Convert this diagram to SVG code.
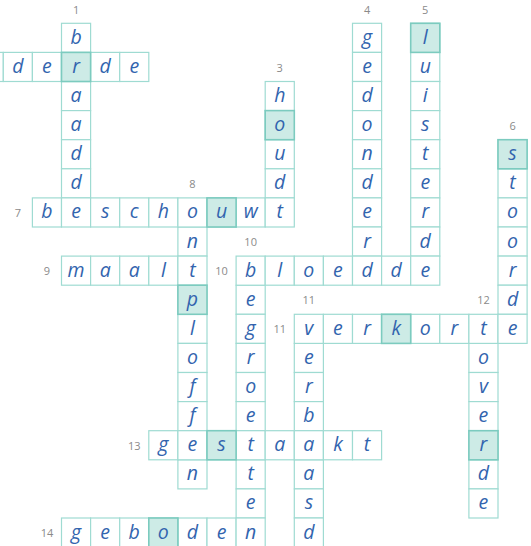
<svg xmlns="http://www.w3.org/2000/svg" width="531" height="546" viewBox="0 0 531 546">
<style>
.c{fill:#fff;stroke:#9fdbd2;stroke-width:1.2}
.h{fill:#cdebe6;stroke:#7ccbbf;stroke-width:1.6}
.l{font-family:"Open Sans","Noto Sans",sans-serif;font-style:italic;font-size:19.5px;fill:#3264ae;text-anchor:middle}
.n{font-family:"Open Sans","Noto Sans",sans-serif;font-size:11px;fill:#8a8a8a;text-anchor:middle}
</style>
<rect width="531" height="546" fill="#fff"/>
<g id="connectors"></g>
<g id="a-derde">
<rect class="c" x="-25.8" y="52.4" width="29.1" height="29.1"/>
<rect class="c" x="3.3" y="52.4" width="29.1" height="29.1"/>
<rect class="c" x="32.4" y="52.4" width="29.1" height="29.1"/>
<rect class="c" x="61.5" y="52.4" width="29.1" height="29.1"/>
<rect class="c" x="90.6" y="52.4" width="29.1" height="29.1"/>
<rect class="c" x="119.7" y="52.4" width="29.1" height="29.1"/>
</g>
<g id="d1">
<rect class="c" x="61.5" y="23.3" width="29.1" height="29.1"/>
<rect class="c" x="61.5" y="81.5" width="29.1" height="29.1"/>
<rect class="c" x="61.5" y="110.6" width="29.1" height="29.1"/>
<rect class="c" x="61.5" y="139.7" width="29.1" height="29.1"/>
<rect class="c" x="61.5" y="168.8" width="29.1" height="29.1"/>
</g>
<g id="d3">
<rect class="c" x="265.2" y="81.5" width="29.1" height="29.1"/>
<rect class="c" x="265.2" y="110.6" width="29.1" height="29.1"/>
<rect class="c" x="265.2" y="139.7" width="29.1" height="29.1"/>
<rect class="c" x="265.2" y="168.8" width="29.1" height="29.1"/>
</g>
<g id="d4">
<rect class="c" x="352.5" y="23.3" width="29.1" height="29.1"/>
<rect class="c" x="352.5" y="52.4" width="29.1" height="29.1"/>
<rect class="c" x="352.5" y="81.5" width="29.1" height="29.1"/>
<rect class="c" x="352.5" y="110.6" width="29.1" height="29.1"/>
<rect class="c" x="352.5" y="139.7" width="29.1" height="29.1"/>
<rect class="c" x="352.5" y="168.8" width="29.1" height="29.1"/>
<rect class="c" x="352.5" y="197.9" width="29.1" height="29.1"/>
<rect class="c" x="352.5" y="227.0" width="29.1" height="29.1"/>
</g>
<g id="d5">
<rect class="c" x="410.7" y="23.3" width="29.1" height="29.1"/>
<rect class="c" x="410.7" y="52.4" width="29.1" height="29.1"/>
<rect class="c" x="410.7" y="81.5" width="29.1" height="29.1"/>
<rect class="c" x="410.7" y="110.6" width="29.1" height="29.1"/>
<rect class="c" x="410.7" y="139.7" width="29.1" height="29.1"/>
<rect class="c" x="410.7" y="168.8" width="29.1" height="29.1"/>
<rect class="c" x="410.7" y="197.9" width="29.1" height="29.1"/>
<rect class="c" x="410.7" y="227.0" width="29.1" height="29.1"/>
</g>
<g id="d6">
<rect class="c" x="498.0" y="139.7" width="29.1" height="29.1"/>
<rect class="c" x="498.0" y="168.8" width="29.1" height="29.1"/>
<rect class="c" x="498.0" y="197.9" width="29.1" height="29.1"/>
<rect class="c" x="498.0" y="227.0" width="29.1" height="29.1"/>
<rect class="c" x="498.0" y="256.1" width="29.1" height="29.1"/>
<rect class="c" x="498.0" y="285.2" width="29.1" height="29.1"/>
</g>
<g id="d8">
<rect class="c" x="177.9" y="227.0" width="29.1" height="29.1"/>
<rect class="c" x="177.9" y="285.2" width="29.1" height="29.1"/>
<rect class="c" x="177.9" y="314.3" width="29.1" height="29.1"/>
<rect class="c" x="177.9" y="343.4" width="29.1" height="29.1"/>
<rect class="c" x="177.9" y="372.5" width="29.1" height="29.1"/>
<rect class="c" x="177.9" y="401.6" width="29.1" height="29.1"/>
<rect class="c" x="177.9" y="459.8" width="29.1" height="29.1"/>
</g>
<g id="d10">
<rect class="c" x="236.1" y="285.2" width="29.1" height="29.1"/>
<rect class="c" x="236.1" y="314.3" width="29.1" height="29.1"/>
<rect class="c" x="236.1" y="343.4" width="29.1" height="29.1"/>
<rect class="c" x="236.1" y="372.5" width="29.1" height="29.1"/>
<rect class="c" x="236.1" y="401.6" width="29.1" height="29.1"/>
<rect class="c" x="236.1" y="459.8" width="29.1" height="29.1"/>
<rect class="c" x="236.1" y="488.9" width="29.1" height="29.1"/>
</g>
<g id="d11">
<rect class="c" x="294.3" y="343.4" width="29.1" height="29.1"/>
<rect class="c" x="294.3" y="372.5" width="29.1" height="29.1"/>
<rect class="c" x="294.3" y="401.6" width="29.1" height="29.1"/>
<rect class="c" x="294.3" y="459.8" width="29.1" height="29.1"/>
<rect class="c" x="294.3" y="488.9" width="29.1" height="29.1"/>
<rect class="c" x="294.3" y="518.0" width="29.1" height="29.1"/>
</g>
<g id="d12">
<rect class="c" x="468.9" y="343.4" width="29.1" height="29.1"/>
<rect class="c" x="468.9" y="372.5" width="29.1" height="29.1"/>
<rect class="c" x="468.9" y="401.6" width="29.1" height="29.1"/>
<rect class="c" x="468.9" y="430.7" width="29.1" height="29.1"/>
<rect class="c" x="468.9" y="459.8" width="29.1" height="29.1"/>
<rect class="c" x="468.9" y="488.9" width="29.1" height="29.1"/>
</g>
<g id="a7">
<rect class="c" x="32.4" y="197.9" width="29.1" height="29.1"/>
<rect class="c" x="61.5" y="197.9" width="29.1" height="29.1"/>
<rect class="c" x="90.6" y="197.9" width="29.1" height="29.1"/>
<rect class="c" x="119.7" y="197.9" width="29.1" height="29.1"/>
<rect class="c" x="148.8" y="197.9" width="29.1" height="29.1"/>
<rect class="c" x="177.9" y="197.9" width="29.1" height="29.1"/>
<rect class="c" x="207.0" y="197.9" width="29.1" height="29.1"/>
<rect class="c" x="236.1" y="197.9" width="29.1" height="29.1"/>
<rect class="c" x="265.2" y="197.9" width="29.1" height="29.1"/>
</g>
<g id="a9">
<rect class="c" x="61.5" y="256.1" width="29.1" height="29.1"/>
<rect class="c" x="90.6" y="256.1" width="29.1" height="29.1"/>
<rect class="c" x="119.7" y="256.1" width="29.1" height="29.1"/>
<rect class="c" x="148.8" y="256.1" width="29.1" height="29.1"/>
<rect class="c" x="177.9" y="256.1" width="29.1" height="29.1"/>
</g>
<g id="a10">
<rect class="c" x="236.1" y="256.1" width="29.1" height="29.1"/>
<rect class="c" x="265.2" y="256.1" width="29.1" height="29.1"/>
<rect class="c" x="294.3" y="256.1" width="29.1" height="29.1"/>
<rect class="c" x="323.4" y="256.1" width="29.1" height="29.1"/>
<rect class="c" x="352.5" y="256.1" width="29.1" height="29.1"/>
<rect class="c" x="381.6" y="256.1" width="29.1" height="29.1"/>
<rect class="c" x="410.7" y="256.1" width="29.1" height="29.1"/>
</g>
<g id="a11">
<rect class="c" x="294.3" y="314.3" width="29.1" height="29.1"/>
<rect class="c" x="323.4" y="314.3" width="29.1" height="29.1"/>
<rect class="c" x="352.5" y="314.3" width="29.1" height="29.1"/>
<rect class="c" x="381.6" y="314.3" width="29.1" height="29.1"/>
<rect class="c" x="410.7" y="314.3" width="29.1" height="29.1"/>
<rect class="c" x="439.8" y="314.3" width="29.1" height="29.1"/>
<rect class="c" x="468.9" y="314.3" width="29.1" height="29.1"/>
<rect class="c" x="498.0" y="314.3" width="29.1" height="29.1"/>
</g>
<g id="a13">
<rect class="c" x="148.8" y="430.7" width="29.1" height="29.1"/>
<rect class="c" x="177.9" y="430.7" width="29.1" height="29.1"/>
<rect class="c" x="207.0" y="430.7" width="29.1" height="29.1"/>
<rect class="c" x="236.1" y="430.7" width="29.1" height="29.1"/>
<rect class="c" x="265.2" y="430.7" width="29.1" height="29.1"/>
<rect class="c" x="294.3" y="430.7" width="29.1" height="29.1"/>
<rect class="c" x="323.4" y="430.7" width="29.1" height="29.1"/>
<rect class="c" x="352.5" y="430.7" width="29.1" height="29.1"/>
</g>
<g id="a14">
<rect class="c" x="61.5" y="518.0" width="29.1" height="29.1"/>
<rect class="c" x="90.6" y="518.0" width="29.1" height="29.1"/>
<rect class="c" x="119.7" y="518.0" width="29.1" height="29.1"/>
<rect class="c" x="148.8" y="518.0" width="29.1" height="29.1"/>
<rect class="c" x="177.9" y="518.0" width="29.1" height="29.1"/>
<rect class="c" x="207.0" y="518.0" width="29.1" height="29.1"/>
<rect class="c" x="236.1" y="518.0" width="29.1" height="29.1"/>
</g>
<g id="highlights">
<rect class="h" x="61.5" y="52.4" width="29.1" height="29.1"/>
<rect class="h" x="265.2" y="110.6" width="29.1" height="29.1"/>
<rect class="h" x="410.7" y="23.3" width="29.1" height="29.1"/>
<rect class="h" x="498.0" y="139.7" width="29.1" height="29.1"/>
<rect class="h" x="207.0" y="197.9" width="29.1" height="29.1"/>
<rect class="h" x="177.9" y="285.2" width="29.1" height="29.1"/>
<rect class="h" x="381.6" y="314.3" width="29.1" height="29.1"/>
<rect class="h" x="207.0" y="430.7" width="29.1" height="29.1"/>
<rect class="h" x="468.9" y="430.7" width="29.1" height="29.1"/>
<rect class="h" x="148.8" y="518.0" width="29.1" height="29.1"/>
</g>
<g id="letters">
<text class="l" x="17.85" y="72.9">d</text><text class="l" x="46.95" y="72.9">e</text><text class="l" x="76.05" y="72.9">r</text><text class="l" x="105.15" y="72.9">d</text><text class="l" x="134.25" y="72.9">e</text>
<text class="l" x="76.05" y="43.8">b</text><text class="l" x="76.05" y="102.0">a</text><text class="l" x="76.05" y="131.1">a</text><text class="l" x="76.05" y="160.2">d</text><text class="l" x="76.05" y="189.3">d</text>
<text class="l" x="279.75" y="102.0">h</text><text class="l" x="279.75" y="131.1">o</text><text class="l" x="279.75" y="160.2">u</text><text class="l" x="279.75" y="189.3">d</text>
<text class="l" x="367.05" y="43.8">g</text><text class="l" x="367.05" y="72.9">e</text><text class="l" x="367.05" y="102.0">d</text><text class="l" x="367.05" y="131.1">o</text><text class="l" x="367.05" y="160.2">n</text><text class="l" x="367.05" y="189.3">d</text><text class="l" x="367.05" y="218.4">e</text><text class="l" x="367.05" y="247.5">r</text>
<text class="l" x="425.25" y="43.8">l</text><text class="l" x="425.25" y="72.9">u</text><text class="l" x="425.25" y="102.0">i</text><text class="l" x="425.25" y="131.1">s</text><text class="l" x="425.25" y="160.2">t</text><text class="l" x="425.25" y="189.3">e</text><text class="l" x="425.25" y="218.4">r</text><text class="l" x="425.25" y="247.5">d</text>
<text class="l" x="512.55" y="160.2">s</text><text class="l" x="512.55" y="189.3">t</text><text class="l" x="512.55" y="218.4">o</text><text class="l" x="512.55" y="247.5">o</text><text class="l" x="512.55" y="276.6">r</text><text class="l" x="512.55" y="305.7">d</text>
<text class="l" x="46.95" y="218.4">b</text><text class="l" x="76.05" y="218.4">e</text><text class="l" x="105.15" y="218.4">s</text><text class="l" x="134.25" y="218.4">c</text><text class="l" x="163.35" y="218.4">h</text><text class="l" x="192.45" y="218.4">o</text><text class="l" x="221.55" y="218.4">u</text><text class="l" x="250.65" y="218.4">w</text><text class="l" x="279.75" y="218.4">t</text>
<text class="l" x="192.45" y="247.5">n</text><text class="l" x="192.45" y="305.7">p</text><text class="l" x="192.45" y="334.8">l</text><text class="l" x="192.45" y="363.9">o</text><text class="l" x="192.45" y="393.0">f</text><text class="l" x="192.45" y="422.1">f</text><text class="l" x="192.45" y="480.3">n</text>
<text class="l" x="76.05" y="276.6">m</text><text class="l" x="105.15" y="276.6">a</text><text class="l" x="134.25" y="276.6">a</text><text class="l" x="163.35" y="276.6">l</text><text class="l" x="192.45" y="276.6">t</text>
<text class="l" x="250.65" y="276.6">b</text><text class="l" x="279.75" y="276.6">l</text><text class="l" x="308.85" y="276.6">o</text><text class="l" x="337.95" y="276.6">e</text><text class="l" x="367.05" y="276.6">d</text><text class="l" x="396.15" y="276.6">d</text><text class="l" x="425.25" y="276.6">e</text>
<text class="l" x="250.65" y="305.7">e</text><text class="l" x="250.65" y="334.8">g</text><text class="l" x="250.65" y="363.9">r</text><text class="l" x="250.65" y="393.0">o</text><text class="l" x="250.65" y="422.1">e</text><text class="l" x="250.65" y="480.3">t</text><text class="l" x="250.65" y="509.4">e</text>
<text class="l" x="308.85" y="334.8">v</text><text class="l" x="337.95" y="334.8">e</text><text class="l" x="367.05" y="334.8">r</text><text class="l" x="396.15" y="334.8">k</text><text class="l" x="425.25" y="334.8">o</text><text class="l" x="454.35" y="334.8">r</text><text class="l" x="483.45" y="334.8">t</text><text class="l" x="512.55" y="334.8">e</text>
<text class="l" x="308.85" y="363.9">e</text><text class="l" x="308.85" y="393.0">r</text><text class="l" x="308.85" y="422.1">b</text><text class="l" x="308.85" y="480.3">a</text><text class="l" x="308.85" y="509.4">s</text><text class="l" x="308.85" y="538.5">d</text>
<text class="l" x="483.45" y="363.9">o</text><text class="l" x="483.45" y="393.0">v</text><text class="l" x="483.45" y="422.1">e</text><text class="l" x="483.45" y="451.2">r</text><text class="l" x="483.45" y="480.3">d</text><text class="l" x="483.45" y="509.4">e</text>
<text class="l" x="163.35" y="451.2">g</text><text class="l" x="192.45" y="451.2">e</text><text class="l" x="221.55" y="451.2">s</text><text class="l" x="250.65" y="451.2">t</text><text class="l" x="279.75" y="451.2">a</text><text class="l" x="308.85" y="451.2">a</text><text class="l" x="337.95" y="451.2">k</text><text class="l" x="367.05" y="451.2">t</text>
<text class="l" x="76.05" y="538.5">g</text><text class="l" x="105.15" y="538.5">e</text><text class="l" x="134.25" y="538.5">b</text><text class="l" x="163.35" y="538.5">o</text><text class="l" x="192.45" y="538.5">d</text><text class="l" x="221.55" y="538.5">e</text><text class="l" x="250.65" y="538.5">n</text>
</g>
<g id="numbers">
<text class="n" x="76.05" y="14">1</text>
<text class="n" x="279.75" y="72">3</text>
<text class="n" x="367.05" y="14">4</text>
<text class="n" x="425.25" y="14">5</text>
<text class="n" x="512.55" y="130">6</text>
<text class="n" x="17.85" y="217">7</text>
<text class="n" x="192.45" y="188">8</text>
<text class="n" x="46.95" y="275">9</text>
<text class="n" x="221.55" y="275">10</text>
<text class="n" x="250.65" y="246">10</text>
<text class="n" x="279.75" y="333">11</text>
<text class="n" x="308.85" y="304">11</text>
<text class="n" x="483.45" y="304">12</text>
<text class="n" x="134.25" y="450">13</text>
<text class="n" x="46.95" y="537">14</text>
</g>
</svg>
